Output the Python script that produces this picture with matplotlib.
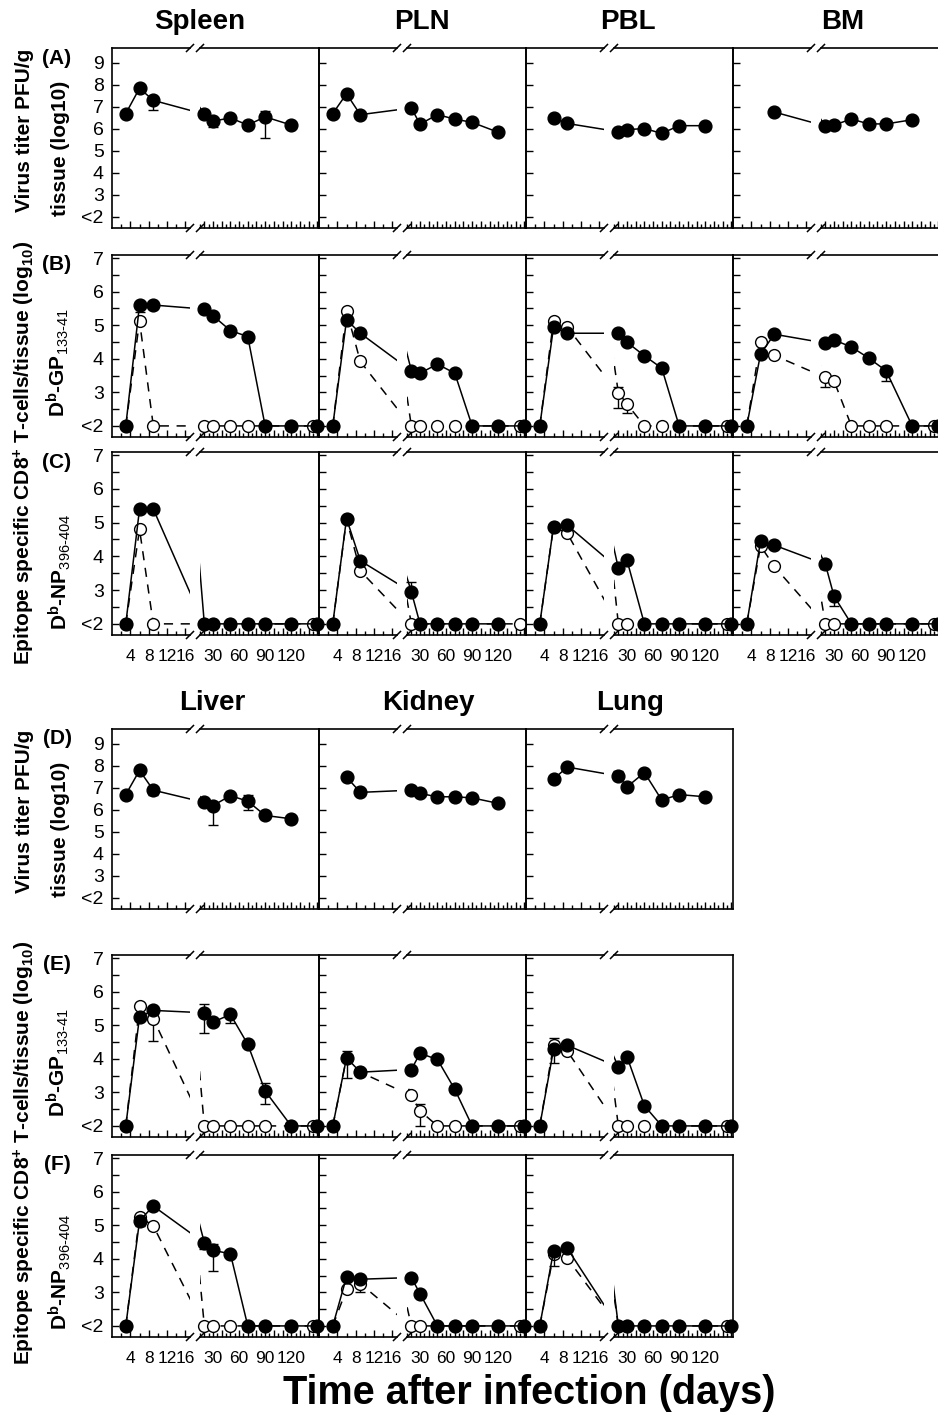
import numpy as np
import matplotlib
matplotlib.use('Agg')
import matplotlib.pyplot as plt

plt.rcParams['font.family'] = ['Liberation Sans', 'DejaVu Sans']
plt.rcParams['mathtext.fontset'] = 'custom'
plt.rcParams['mathtext.rm'] = 'Liberation Sans'
plt.rcParams['mathtext.bf'] = 'Liberation Sans:bold'
plt.rcParams['mathtext.it'] = 'Liberation Sans:italic'
plt.rcParams['mathtext.default'] = 'regular'

nan = np.nan

# ---------------- data ----------------
DAYS_FILLED = [3, 6, 9, 20, 30, 50, 70, 90, 120, 150]
DAYS_OPEN = [3, 6, 9, 20, 30, 50, 70, 90, 120, 145]

TOP_ORGANS = ['Spleen', 'PLN', 'PBL', 'BM']
BOTTOM_ORGANS = ['Liver', 'Kidney', 'Lung']
TOP_LETTERS = ['(A)', '(B)', '(C)']
BOTTOM_LETTERS = ['(D)', '(E)', '(F)']
TITER_TICKS = [2, 3, 4, 5, 6, 7, 8, 9]
TITER_LABELS = ['<2', '3', '4', '5', '6', '7', '8', '9']
TCELL_TICKS = [2, 3, 4, 5, 6, 7]
TCELL_LABELS = ['<2', '3', '4', '5', '6', '7']
EARLY_TICKS = [4, 8, 12, 16]
EARLY_MINOR = [2, 6, 10, 14]
LATE_LABELED = [30, 60, 90, 120]
LATE_MAJOR = [20, 30, 40, 50, 60, 70, 80, 90, 100, 110, 120, 130, 140, 150]
LATE_MINOR = [15, 25, 35, 45, 55, 65, 75, 85, 95, 105, 115, 125, 135, 145]

N = None
NOERR = [N] * 10

# Spleen
spleen_titer = [6.7, 7.85, 7.3, 6.68, 6.36, 6.5, 6.18, 6.55, 6.18, nan]
spleen_titer_err = [N, N, (0.45, 0.15), N, (0.28, 0.05), N, N, (0.95, 0.27), N, N]
spleen_gp_filled = [2, 5.6, 5.6, 5.48, 5.28, 4.84, 4.66, 2, 2, 2]
spleen_gp_filled_err = [N, (0.2, 0.0), (0.12, 0.0), N, N, N, (0.12, 0.0), N, N, N]
spleen_gp_open = [2, 5.13, 2, 2, 2, 2, 2, 2, 2, 2]
spleen_np_filled = [2, 5.4, 5.4, 2, 2, 2, 2, 2, 2, 2]
spleen_np_open = [2, 4.8, 2, 2, 2, 2, 2, 2, 2, 2]

# PLN
pln_titer = [6.7, 7.6, 6.65, 6.95, 6.22, 6.65, 6.45, 6.3, 5.85, nan]
pln_gp_filled = [2, 5.16, 4.76, 3.65, 3.57, 3.84, 3.57, 2, 2, 2]
pln_gp_open = [2, 5.43, 3.92, 2, 2, 2, 2, 2, 2, 2]
pln_np_filled = [2, 5.12, 3.87, 2.95, 2, 2, 2, 2, 2, nan]
pln_np_filled_err = [N, (0.1, 0.05), N, (0.0, 0.28), N, N, N, N, N, N]
pln_np_open = [2, 5.1, 3.57, 2, 2, 2, 2, 2, 2, 2]

# PBL
pbl_titer = [nan, 6.5, 6.25, 5.88, 5.97, 6.02, 5.8, 6.15, 6.15, nan]
pbl_gp_filled = [2, 4.94, 4.76, 4.76, 4.49, 4.09, 3.72, 2, 2, 2]
pbl_gp_open = [2, 5.13, 4.94, 2.99, 2.65, 2, 2, 2, 2, 2]
pbl_gp_open_err = [N, N, N, (0.46, 0.18), (0.27, 0.0), N, N, N, N, N]
pbl_np_filled = [2, 4.88, 4.92, 3.65, 3.88, 2, 2, 2, 2, 2]
pbl_np_open = [2, 4.88, 4.68, 2, 2, 2, 2, 2, 2, 2]

# BM
bm_titer = [nan, nan, 6.77, 6.14, 6.18, 6.45, 6.23, 6.23, 6.42, nan]
bm_titer_err = [N, N, N, (0.1, 0.1), N, (0.05, 0.08), N, N, (0.08, 0.1), N]
bm_gp_filled = [2, 4.14, 4.73, 4.47, 4.56, 4.35, 4.02, 3.64, 2, 2]
bm_gp_filled_err = [N, N, N, (0.08, 0.08), (0.1, 0.1), (0.12, 0.1), N, (0.3, 0.15), N, N]
bm_gp_open = [2, 4.51, 4.1, 3.45, 3.34, 2, 2, 2, 2, 2]
bm_gp_open_err = [N, N, N, (0.28, 0.0), N, N, N, N, N, N]
bm_np_filled = [2, 4.45, 4.33, 3.77, 2.82, 2, 2, 2, 2, 2]
bm_np_filled_err = [N, (0.0, 0.12), N, (0.15, 0.1), (0.3, 0.15), N, N, N, N, N]
bm_np_open = [2, 4.31, 3.7, 2, 2, 2, 2, 2, 2, 2]

# Liver
liver_titer = [6.7, 7.8, 6.9, 6.35, 6.2, 6.65, 6.4, 5.75, 5.6, nan]
liver_titer_err = [N, N, (0.2, 0.1), N, (0.9, 0.1), N, (0.4, 0.3), (0.15, 0.1), N, N]
liver_gp_filled = [2, 5.25, 5.44, 5.37, 5.09, 5.32, 4.43, 3.04, 2, 2]
liver_gp_filled_err = [N, N, N, (0.6, 0.25), (0.1, 0.05), (0.25, 0.1), N, (0.4, 0.25), N, N]
liver_gp_open = [2, 5.56, 5.19, 2, 2, 2, 2, 2, 2, 2]
liver_gp_open_err = [N, N, (0.65, 0.1), N, N, N, N, N, N, N]
liver_np_filled = [2, 5.13, 5.57, 4.48, 4.25, 4.15, 2, 2, 2, 2]
liver_np_filled_err = [N, (0.15, 0.1), N, (0.2, 0.05), (0.6, 0.2), N, N, N, N, N]
liver_np_open = [2, 5.25, 4.98, 2, 2, 2, 2, 2, 2, 2]

# Kidney
kidney_titer = [nan, 7.5, 6.8, 6.9, 6.75, 6.6, 6.6, 6.55, 6.3, nan]
kidney_gp_filled = [2, 4.03, 3.6, 3.68, 4.16, 3.98, 3.09, 2, 2, 2]
kidney_gp_filled_err = [N, (0.6, 0.2), (0.1, 0.05), N, N, N, N, N, N, N]
kidney_gp_open = [2, 4.03, 3.6, 2.91, 2.45, 2, 2, 2, 2, 2]
kidney_gp_open_err = [N, N, N, N, (0.45, 0.2), N, N, N, N, N]
kidney_np_filled = [2, 3.46, 3.39, 3.44, 2.96, 2, 2, 2, 2, 2]
kidney_np_open = [2, 3.09, 3.26, 2, 2, 2, 2, 2, 2, 2]
kidney_np_open_err = [N, N, (0.25, 0.12), N, N, N, N, N, N, N]

# Lung
lung_titer = [nan, 7.4, 7.95, 7.55, 7.05, 7.7, 6.45, 6.7, 6.6, nan]
lung_titer_err = [N, N, N, (0.2, 0.2), (0.2, 0.1), N, N, N, N, N]
lung_gp_filled = [2, 4.28, 4.4, 3.76, 4.06, 2.6, 2, 2, 2, 2]
lung_gp_filled_err = [N, (0.4, 0.1), N, N, N, N, N, N, N, N]
lung_gp_open = [2, 4.4, 4.23, 2, 2, 2, 2, 2, 2, 2]
lung_gp_open_err = [N, (0.0, 0.22), N, N, N, N, N, N, N, N]
lung_np_filled = [2, 4.23, 4.31, 2, 2, 2, 2, 2, 2, 2]
lung_np_filled_err = [N, (0.45, 0.05), N, N, N, N, N, N, N, N]
lung_np_open = [2, 4.13, 4.01, 2, 2, 2, 2, 2, 2, 2]

# table per organ: row -> list of (values, errors, filled?)
ORGANS = {
    'Spleen': [[(spleen_titer, spleen_titer_err, True)],
               [(spleen_gp_open, NOERR, False), (spleen_gp_filled, spleen_gp_filled_err, True)],
               [(spleen_np_open, NOERR, False), (spleen_np_filled, NOERR, True)]],
    'PLN': [[(pln_titer, NOERR, True)],
            [(pln_gp_open, NOERR, False), (pln_gp_filled, NOERR, True)],
            [(pln_np_open, NOERR, False), (pln_np_filled, pln_np_filled_err, True)]],
    'PBL': [[(pbl_titer, NOERR, True)],
            [(pbl_gp_open, pbl_gp_open_err, False), (pbl_gp_filled, NOERR, True)],
            [(pbl_np_open, NOERR, False), (pbl_np_filled, NOERR, True)]],
    'BM': [[(bm_titer, bm_titer_err, True)],
           [(bm_gp_open, bm_gp_open_err, False), (bm_gp_filled, bm_gp_filled_err, True)],
           [(bm_np_open, NOERR, False), (bm_np_filled, bm_np_filled_err, True)]],
    'Liver': [[(liver_titer, liver_titer_err, True)],
              [(liver_gp_open, liver_gp_open_err, False), (liver_gp_filled, liver_gp_filled_err, True)],
              [(liver_np_open, NOERR, False), (liver_np_filled, liver_np_filled_err, True)]],
    'Kidney': [[(kidney_titer, NOERR, True)],
               [(kidney_gp_open, kidney_gp_open_err, False), (kidney_gp_filled, kidney_gp_filled_err, True)],
               [(kidney_np_open, kidney_np_open_err, False), (kidney_np_filled, NOERR, True)]],
    'Lung': [[(lung_titer, lung_titer_err, True)],
             [(lung_gp_open, lung_gp_open_err, False), (lung_gp_filled, lung_gp_filled_err, True)],
             [(lung_np_open, NOERR, False), (lung_np_filled, lung_np_filled_err, True)]],
}

# ---------------- layout (pixels) ----------------
W, H = 938, 1421
COL_LEFT = [112, 319, 526, 733]
LEFT_W = 78
RIGHT_OFF = 88
RIGHT_W = 119
TOP_ROWS = [(48, 228), (255, 437), (452, 635)]
BOTTOM_ROWS = [(729, 909), (955, 1137), (1155, 1337)]
LEFT_XLIM = (0, 17)
RIGHT_XLIM = (15, 152)
TITER_YLIM = (1.5, 9.68)
TCELL_YLIM = (1.67, 7.09)

fig = plt.figure(figsize=(W / 100, H / 100), dpi=100)


def px_axes(x, top, w, h):
    return fig.add_axes([x / W, 1 - (top + h) / H, w / W, h / H])


def draw_series(axes_lims, days, vals, errs, filled):
    days = np.asarray(days, float)
    vals = np.asarray(vals, float)
    ls = '-' if filled else (0, (6, 5))
    zl = 4 if filled else 2
    for ax, (lo, hi) in axes_lims:
        ax.plot(days, vals, ls=ls, color='k', lw=1.1, zorder=zl)
        for i, (d, v) in enumerate(zip(days, vals)):
            if np.isnan(v) or d < lo or d > hi:
                continue
            e = errs[i]
            if e is not None:
                cont = ax.errorbar([d], [v], yerr=[[e[0]], [e[1]]], fmt='none',
                                   ecolor='k', elinewidth=1.0, capsize=3.5,
                                   capthick=1.0, zorder=zl)
                for art in list(cont.lines[1]) + list(cont.lines[2]):
                    art.set_clip_on(False)
            if filled:
                ax.plot([d], [v], ls='none', marker='o', ms=9.2, mfc='k', mec='k',
                        clip_on=False, zorder=zl + 1)
            else:
                ax.plot([d], [v], ls='none', marker='o', ms=8.5, mfc='white',
                        mec='k', mew=1.0, clip_on=False, zorder=zl + 1)


def make_panel(L, top, bottom, row, series, first_col, last_row):
    h = bottom - top
    axL = px_axes(L, top, LEFT_W, h)
    axR = px_axes(L + RIGHT_OFF, top, RIGHT_W, h)
    ylim = TITER_YLIM if row == 0 else TCELL_YLIM
    for ax in (axL, axR):
        ax.set_ylim(*ylim)
        for sp in ax.spines.values():
            sp.set_linewidth(1.2)
        ax.patch.set_alpha(0)
    axL.set_xlim(*LEFT_XLIM)
    axR.set_xlim(*RIGHT_XLIM)
    axL.spines['right'].set_visible(False)
    axR.spines['left'].set_visible(False)

    # y ticks
    if row == 0:
        axL.set_yticks(TITER_TICKS)
        axL.set_yticklabels(TITER_LABELS if first_col else [])
    else:
        axL.set_yticks(TCELL_TICKS)
        axL.set_yticklabels(TCELL_LABELS if first_col else [])
        axL.set_yticks([t + 0.5 for t in TCELL_TICKS[:-1]], minor=True)
    axL.tick_params(axis='y', which='both', direction='in', length=5, width=1,
                    labelsize=14, pad=6, right=False)
    axR.tick_params(axis='y', which='both', left=False, right=False,
                    labelleft=False)

    # x ticks
    axL.set_xticks(EARLY_TICKS)
    axL.set_xticks(EARLY_MINOR, minor=True)
    axL.set_xticklabels([str(t) for t in EARLY_TICKS] if last_row else [])
    axR.set_xticks(LATE_MAJOR)
    axR.set_xticks(LATE_MINOR, minor=True)
    axR.set_xticklabels([str(t) if t in LATE_LABELED else '' for t in LATE_MAJOR]
                        if last_row else [])
    for ax in (axL, axR):
        ax.tick_params(axis='x', which='major', direction='in', length=5, width=1,
                       labelsize=12.5, pad=10, top=False)
        ax.tick_params(axis='x', which='minor', direction='in', length=3, width=1,
                       top=False)

    # break marks
    dxL, dxR = 3.5 / LEFT_W, 3.5 / RIGHT_W
    dy = 3.5 / h
    kw = dict(color='k', lw=1.1, clip_on=False, zorder=10)
    for yy in (0, 1):
        axL.plot([1 - dxL, 1 + dxL], [yy - dy, yy + dy], transform=axL.transAxes, **kw)
        axR.plot([-dxR, dxR], [yy - dy, yy + dy], transform=axR.transAxes, **kw)

    axes_lims = [(axL, LEFT_XLIM), (axR, RIGHT_XLIM)]
    for vals, errs, filled in series:
        days = DAYS_FILLED if filled else DAYS_OPEN
        draw_series(axes_lims, days, vals, errs, filled)


def fig_text(x, y, s, **kw):
    fig.text(x / W, 1 - y / H, s, **kw)


def draw_block(organs, rows, letters, title_x, title_y, yoff_d, yoff_ef):
    for ci, organ in enumerate(organs):
        L = COL_LEFT[ci]
        for ri, (top, bottom) in enumerate(rows):
            make_panel(L, top, bottom, ri, ORGANS[organ][ri], ci == 0, ri == 2)
        fig_text(title_x[ci], title_y, organ, ha='center', va='center',
                 fontsize=20, fontweight='bold')
    for ri, (top, bottom) in enumerate(rows):
        fig_text(57, top + 10, letters[ri], ha='center', va='center',
                 fontsize=15, fontweight='bold')
    bold = dict(rotation=90, ha='center', va='center', fontsize=15, fontweight='bold')
    fig_text(24, 130 + yoff_d, 'Virus titer PFU/g', **bold)
    fig_text(60, 148 + yoff_d, 'tissue (log10)', **bold)
    fig_text(24, 453 + yoff_ef,
             r'Epitope specific CD8$^{+}$ T-cells/tissue (log$_{10}$)', **bold)
    fig_text(58, 363 + yoff_ef, r'D$^{b}$-GP$_{\text{133-41}}$', **bold)
    fig_text(60, 572 + yoff_ef, r'D$^{b}$-NP$_{\text{396-404}}$', **bold)


draw_block(TOP_ORGANS, TOP_ROWS, TOP_LETTERS, [200, 422, 628, 843], 22, 0, 0)
draw_block(BOTTOM_ORGANS, BOTTOM_ROWS, BOTTOM_LETTERS, [212, 428, 630], 703, 681, 700)

fig_text(529, 1393, 'Time after infection (days)', ha='center', va='center',
         fontsize=28.5, fontweight='bold')

fig.savefig('out.png', dpi=100)
